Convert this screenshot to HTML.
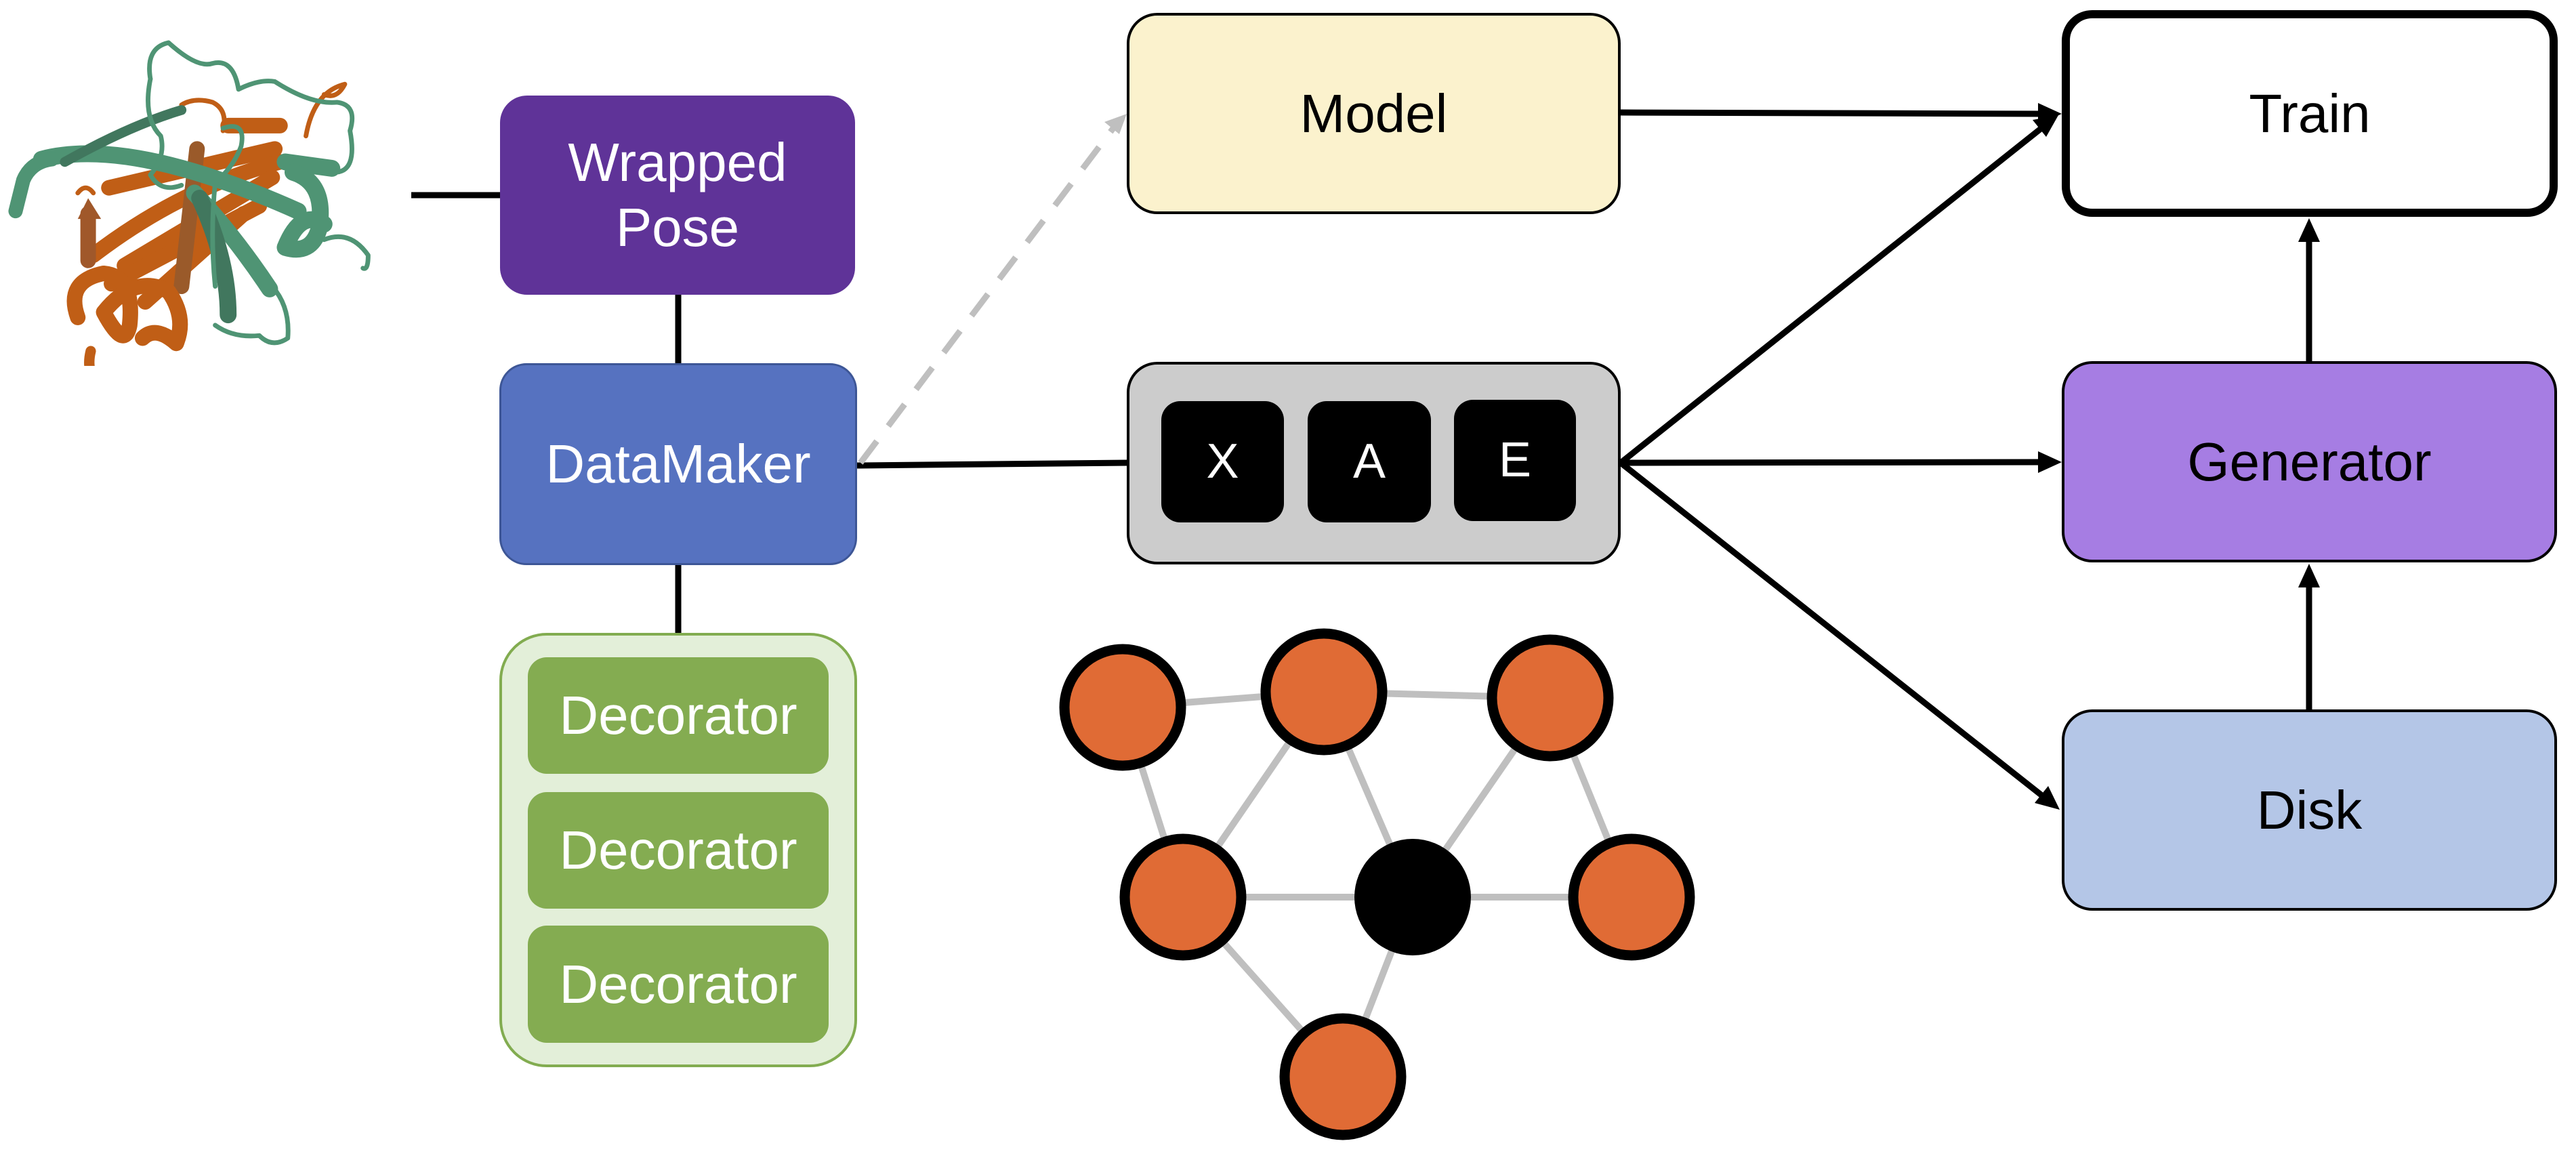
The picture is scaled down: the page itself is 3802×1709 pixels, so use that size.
<!DOCTYPE html>
<html><head><meta charset="utf-8"><style>
html,body{margin:0;padding:0;background:#fff;}
body{width:3802px;height:1709px;position:relative;overflow:hidden;font-family:"Liberation Sans",sans-serif;}
.b{position:absolute;box-sizing:border-box;display:flex;align-items:center;justify-content:center;text-align:center;font-size:80px;line-height:1.2;}
</style></head><body>
<svg width="3802" height="1709" style="position:absolute;left:0;top:0">
<g stroke="#000" stroke-width="9" fill="none">
<line x1="607" y1="288" x2="740" y2="288"/>
<line x1="1001" y1="434" x2="1001" y2="538"/>
<line x1="1001" y1="832" x2="1001" y2="936"/>
<line x1="1265" y1="687" x2="1665" y2="683"/>
<line x1="2392" y1="166" x2="3010" y2="168"/>
<line x1="2392" y1="683" x2="3012" y2="190"/>
<line x1="2392" y1="683" x2="3012" y2="682"/>
<line x1="2392" y1="683" x2="3015" y2="1175"/>
<line x1="3408" y1="533" x2="3408" y2="352"/>
<line x1="3408" y1="1047" x2="3408" y2="862"/>
</g>
<g fill="#000">
<polygon points="3043,168 3008,152 3008,184"/>
<polygon points="3038,170 3000,177 3020,202"/>
<polygon points="3043,682 3008,666 3008,698"/>
<polygon points="3040,1195 3023,1160 3003,1185"/>
<polygon points="3408,322 3392,357 3424,357"/>
<polygon points="3408,832 3392,867 3424,867"/>
</g>
<line x1="1270" y1="683" x2="1650" y2="180" stroke="#bfbfbf" stroke-width="9" stroke-dasharray="40,28"/>
<polygon points="1663,168 1630,180 1652,198" fill="#bfbfbf"/>
<g stroke="#bfbfbf" stroke-width="10">
<line x1="1657" y1="1044" x2="1954" y2="1021"/>
<line x1="1954" y1="1021" x2="2288" y2="1030"/>
<line x1="1657" y1="1044" x2="1746" y2="1324"/>
<line x1="1954" y1="1021" x2="1746" y2="1324"/>
<line x1="1954" y1="1021" x2="2085" y2="1324"/>
<line x1="2288" y1="1030" x2="2085" y2="1324"/>
<line x1="2288" y1="1030" x2="2408" y2="1324"/>
<line x1="1746" y1="1324" x2="2085" y2="1324"/>
<line x1="2085" y1="1324" x2="2408" y2="1324"/>
<line x1="1746" y1="1324" x2="1982" y2="1589"/>
<line x1="2085" y1="1324" x2="1982" y2="1589"/>
</g>
<g fill="#e06b35" stroke="#000" stroke-width="15">
<circle cx="1657" cy="1044" r="86"/>
<circle cx="1954" cy="1021" r="86"/>
<circle cx="2288" cy="1030" r="86"/>
<circle cx="1746" cy="1324" r="86"/>
<circle cx="2408" cy="1324" r="86"/>
<circle cx="1982" cy="1589" r="86"/>
</g>
<circle cx="2085" cy="1324" r="86" fill="#000"/>
</svg>
<svg width="600" height="500" viewBox="0 0 1568 1307" preserveAspectRatio="none" style="position:absolute;left:0;top:40px">
<g fill="none" stroke-linecap="round" stroke-linejoin="round">
<g stroke="#c05e16" stroke-width="60">
<path d="M420,620 L1060,470"/>
<path d="M360,880 Q700,620 1080,520"/>
<path d="M480,920 L1050,580"/>
<path d="M430,990 L1000,690"/>
<path d="M560,1060 L940,720"/>
<path d="M880,380 L1080,380"/>
<path d="M760,470 L700,1000" stroke="#9a5a2a"/>
<path d="M340,720 L340,900" stroke="#a0582a"/>
<path d="M300,1120 Q250,980 400,950 Q520,960 500,1150 Q480,1250 400,1100 Q520,950 650,1020 Q720,1120 680,1220 Q600,1150 550,1200"/>
<path d="M350,1250 Q330,1330 380,1380" stroke-width="40"/>
</g>
<g stroke="#c05e16" stroke-width="18">
<path d="M700,300 Q750,270 820,290 Q880,320 860,400"/>
<path d="M1180,420 Q1210,250 1330,220 Q1300,280 1250,260"/>
<path d="M490,1440 Q530,1400 600,1390"/>
<path d="M300,640 Q330,600 360,640"/>
</g>
<polygon points="300,740 340,660 390,740" fill="#a0582a"/>
<g stroke="#4f9474" stroke-width="65">
<path d="M160,510 Q500,420 1150,710"/>
<path d="M1100,520 L1280,545"/>
<path d="M750,640 Q900,800 1040,1010"/>
<path d="M770,660 Q880,900 880,1110" stroke="#41775e"/>
<path d="M1130,560 Q1260,600 1230,780 Q1200,880 1100,850 Q1160,700 1250,760"/>
<path d="M60,710 L90,590 Q120,520 200,510" stroke-width="55"/>
<path d="M250,520 Q500,380 700,320" stroke-width="38" stroke="#41775e"/>
</g>
<g stroke="#4f9474" stroke-width="18">
<path d="M580,200 Q560,80 650,60 Q760,160 820,140 Q900,120 920,240 Q1000,200 1060,210 Q1200,300 1300,290 Q1380,300 1350,400 Q1380,560 1290,560"/>
<path d="M580,200 Q550,350 620,420 Q640,500 580,570 Q620,640 700,610"/>
<path d="M1250,820 Q1350,780 1420,880 Q1420,940 1400,930"/>
<path d="M830,1150 Q900,1200 1000,1190 Q1050,1240 1110,1200 Q1120,1080 1050,1000"/>
<path d="M860,390 Q950,360 930,460 Q900,540 830,600 Q810,800 830,1000"/>
</g>
</g>
</svg>
<div class="b" style="left:738px;top:141px;width:524px;height:294px;background:#5f3398;border-radius:40px;color:#fff;">Wrapped<br>Pose</div>
<div class="b" style="left:737px;top:536px;width:528px;height:298px;background:#5672c0;border:3px solid #3d5696;border-radius:40px;color:#fff;">DataMaker</div>
<div class="b" style="left:737px;top:934px;width:528px;height:641px;background:#e3efd9;border:4px solid #82ac50;border-radius:70px;"></div>
<div class="b" style="left:779px;top:970px;width:444px;height:172px;background:#84ac51;border-radius:28px;color:#fff;">Decorator</div>
<div class="b" style="left:779px;top:1169px;width:444px;height:172px;background:#84ac51;border-radius:28px;color:#fff;">Decorator</div>
<div class="b" style="left:779px;top:1366px;width:444px;height:173px;background:#84ac51;border-radius:28px;color:#fff;">Decorator</div>
<div class="b" style="left:1663px;top:19px;width:729px;height:297px;background:#fbf2cd;border:4px solid #000;border-radius:45px;color:#000;">Model</div>
<div class="b" style="left:3043px;top:15px;width:732px;height:305px;background:#fff;border:12px solid #000;border-radius:45px;color:#000;">Train</div>
<div class="b" style="left:1663px;top:534px;width:729px;height:299px;background:#cccccc;border:4px solid #000;border-radius:45px;"></div>
<div class="b" style="left:1714px;top:592px;width:181px;height:179px;background:#000;border-radius:28px;color:#fff;font-size:72px;">X</div>
<div class="b" style="left:1930px;top:592px;width:182px;height:179px;background:#000;border-radius:28px;color:#fff;font-size:72px;">A</div>
<div class="b" style="left:2146px;top:590px;width:180px;height:179px;background:#000;border-radius:28px;color:#fff;font-size:72px;">E</div>
<div class="b" style="left:3043px;top:533px;width:731px;height:297px;background:#a67de3;border:4px solid #000;border-radius:45px;color:#000;">Generator</div>
<div class="b" style="left:3043px;top:1047px;width:731px;height:297px;background:#b4c6e7;border:4px solid #000;border-radius:45px;color:#000;">Disk</div>
</body></html>
